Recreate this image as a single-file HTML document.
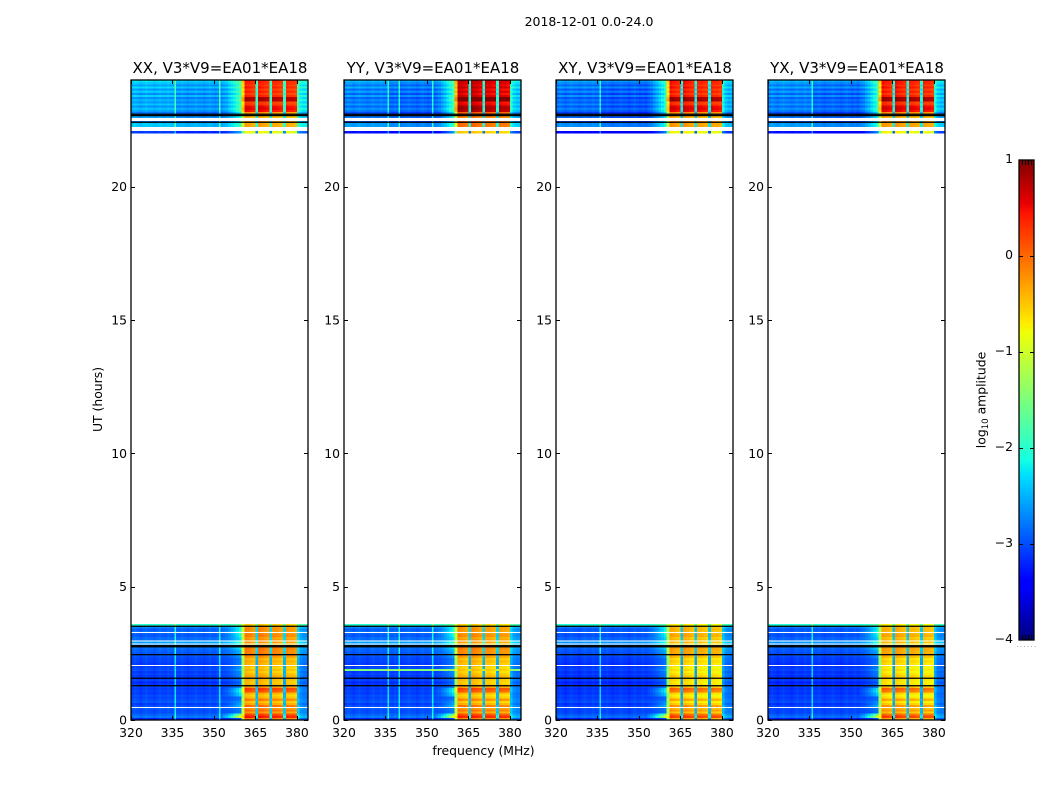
<!DOCTYPE html>
<html lang="en">
<head>
<meta charset="utf-8">
<title>2018-12-01 0.0-24.0</title>
<style>
html,body{margin:0;padding:0;background:#fff;width:1050px;height:800px;overflow:hidden}
svg{display:block}
text{font-family:"DejaVu Sans","Liberation Sans",sans-serif;fill:#000}
.tick{font-size:12.4px}
.title{font-size:15px}
</style>
</head>
<body>
<svg id="chart" xmlns="http://www.w3.org/2000/svg" width="1050" height="800" viewBox="0 0 1050 800">
  <text x="589" y="26" text-anchor="middle" style="font-size:12.5px">2018-12-01 0.0-24.0</text>
  <text x="483.5" y="755" text-anchor="middle" class="tick">frequency (MHz)</text>
  <text transform="translate(102,399.5) rotate(-90)" text-anchor="middle" class="tick">UT (hours)</text>
  <text transform="translate(985.5,400) rotate(-90)" text-anchor="middle" class="tick">log<tspan dy="2.5" style="font-size:8.6px">10</tspan><tspan dy="-2.5"> amplitude</tspan></text>
</svg>
<script>
// ---- chart data (log10 amplitude) ----
const panelTitles = ["XX, V3*V9=EA01*EA18", "YY, V3*V9=EA01*EA18", "XY, V3*V9=EA01*EA18", "YX, V3*V9=EA01*EA18"];
const xTicks = [320, 335, 350, 365, 380];
const yTicks = [0, 5, 10, 15, 20];
const colorbarTicks = [1, 0, -1, -2, -3, -4];
const freqStart = 320;
const freqEnd = 384;
const hourMax = 24;
const rowHours = 0.08;
const bottomBlockStart = 0;
const topBlockStart = 22;

// Per-time-row amplitude outside the bright band (null = no data), earliest row first.
const bottomLow = [-3.2,-2.8,-2.9,-3.0,-3.0,-2.95,-3.0,-3.1,-2.95,-3.0,-3.05,-3.0,-3.1,-3.05,-3.1,-3.05,-3.1,-3.2,-3.05,-3.1,-3.1,-3.05,-3.1,-3.0,-3.05,-3.1,-3.1,-3.05,-3.05,-3.0,-2.95,-2.95,-2.9,-2.85,-2.75,-2.65,-2.6,-2.85,-2.85,-2.95,-2.9,-2.85,-2.95,-2.75,-2.0];
// Per-time-row amplitude inside the bright band.
const bottomHigh = [-0.2,0.35,0.1,-0.35,-0.1,-0.3,-0.1,-0.4,-0.55,-0.2,-0.5,-0.6,-0.45,0.05,0.15,-0.3,-0.5,-0.55,-0.5,-0.45,-0.4,-0.5,-0.6,-0.5,-0.6,-0.45,-0.5,-0.4,-0.5,-0.3,-0.2,-0.2,-0.2,-0.15,-0.35,-0.4,-0.3,-0.3,-0.35,-0.2,-0.25,-0.3,-0.25,-0.3,-0.6];
// Per-time-row strength of the ramp just below the bright band.
const bottomRampGain = [0.3,2.2,1.6,0.3,0.3,0.3,0.7,0.7,0.5,0.3,0.3,1,1.1,1.1,1,0.5,0.4,0.4,0.4,0.4,0.5,0.5,0.6,0.7,0.6,0.5,0.5,0.4,0.4,0.5,0.6,0.6,0.6,0.8,0.9,1,1,0.8,0.9,1.1,1.2,1.2,1.1,1,1];
const topLow = [-3.3,null,null,-2.6,-2.6,-3.0,null,-2.8,-2.7,-3.0,-2.8,-2.65,-2.9,-2.6,-2.85,-2.7,-2.9,-2.55,-2.9,-2.6,-2.85,-2.5,-2.8,-2.6,-2.45];
const topHigh = [-0.9,null,null,-0.4,-0.4,-0.3,null,-0.5,-0.5,-0.3,0.4,0.5,0.45,0.2,0.15,0.75,0.75,0.3,0.15,0.3,0.15,0.35,0.2,0.3,0.3];

// Per-channel (1 MHz) mix between the low and high levels, and small channel trims.
const bandWeight = [0,0,0,0,0,0,0,0,0,0,0,0,0,0,0,0,0,0,0,0,0,0,0,0,0,0,0,0,0,0,0,0,0,0.03,0.05,0.08,0.12,0.17,0.22,0.28,0.7,1,1,1,1,0.22,1,1,1,1,0.22,1,1,1,1,0.22,1,1,1,1,0.22,0.13,0.1,0.1];
const channelTrim = [0,0.05,0,-0.05,0,0.05,0,0,-0.05,0,0.05,0,0,0.05,0,0,0,0,0.05,0,-0.05,0,0,0.05,0,0,-0.05,0,0.05,0,0,0.05,0,0,0,0,0,0,0,0,0,0.15,0.1,0.05,0,0,0.15,0.1,0.05,0,0,0.05,0.05,0,-0.05,0,0.05,0,0,-0.05,0,0,0,0];
const topChannelLift = [0.12,0.12,0.12,0.12,0.12,0.12,0.12,0.12,0.12,0.1,0.1,0.1,0.1,0.1,0.1,0.1,0,0,0,0,0,0,0,0,0,0,0,0,0,0,-0.05,-0.05,-0.05,-0.05,-0.05,0,0,0,0,0,0,0,0,0,0,0,0,0,0,0,0,0,0,0,0,0,0,0,0,0,0.1,0.1,0.1,0.1];

// Per-panel level adjustments: XX, YY, XY, YX.
const panelTopHighShift = [0, 0.3, 0.05, 0.05];
const panelTopLowShift = [0.1, -0.12, -0.2, -0.12];
const panelBottomHighShift = [0, -0.05, -0.2, -0.2];
const panelBottomLowShift = [0, 0, -0.05, -0.05];
// Narrow interference channels, per panel (MHz).
const panelSpurChannels = [[336, 352], [336, 340, 352], [336], [336]];
const spurLift = 0.8;
// Bright low-band row seen only in the YY panel.
const yyHotBottomRow = 23;
const yyHotLift = 1.5;

// Thin flagged rows, in hours.
const blackRowHours = [3.54, 2.81, 2.77, 2.475, 1.59, 1.31, 22.74, 22.69, 22.44];
const whiteRowHours = [3.3, 2.98, 2.86, 2.07, 0.49, 22.575, 22.5];

// ---- layout ----
const panelLefts = [131, 344, 556, 768];
const panelWidth = 177;
const plotTop = 80;
const plotBottom = 720;
const cbLeft = 1019;
const cbRight = 1034;
const cbTop = 160;
const cbBottom = 640;
const cbMin = -4;
const cbMax = 1;
const spurWidth = 1.5;
const SVGNS = "http://www.w3.org/2000/svg";
const svg = document.getElementById("chart");

function make(tag, parent) {
  const el = document.createElementNS(SVGNS, tag);
  parent.appendChild(el);
  return el;
}
function lerpStops(stops, t) {
  for (let i = 1; i < stops.length; i++) {
    if (t <= stops[i][0]) {
      const a = stops[i - 1], b = stops[i];
      return a[1] + (b[1] - a[1]) * (t - a[0]) / (b[0] - a[0]);
    }
  }
  return stops[stops.length - 1][1];
}
const jetR = [[0,0],[0.35,0],[0.66,1],[0.89,1],[1,0.5]];
const jetG = [[0,0],[0.125,0],[0.375,1],[0.64,1],[0.91,0],[1,0]];
const jetB = [[0,0.5],[0.11,1],[0.34,1],[0.65,0],[1,0]];
function colorFor(v) {
  const t = Math.max(0, Math.min(1, (v - cbMin) / (cbMax - cbMin)));
  const r = Math.round(255 * lerpStops(jetR, t));
  const g = Math.round(255 * lerpStops(jetG, t));
  const b = Math.round(255 * lerpStops(jetB, t));
  return "rgb(" + r + "," + g + "," + b + ")";
}
function yScale(h) {
  return plotBottom - (h / hourMax) * (plotBottom - plotTop);
}
function xScale(f, left) {
  return left + ((f - freqStart) / (freqEnd - freqStart)) * panelWidth;
}
function cbY(v) {
  return cbBottom - ((v - cbMin) / (cbMax - cbMin)) * (cbBottom - cbTop);
}

function drawBlock(group, left, start, lowRows, highRows, lowShift, highShift, spurs, hotRow, rampGain, lift) {
  lowRows.forEach(function (lowValue, r) {
    const highValue = highRows[r];
    if (lowValue === null || highValue === null) return;
    const y0 = yScale(start + (r + 1) * rowHours);
    const y1 = yScale(start + r * rowHours);
    const low = lowValue + lowShift + (r === hotRow ? yyHotLift : 0);
    const high = highValue + highShift;
    bandWeight.forEach(function (w, c) {
      const isRamp = c >= 33 && c < 40;
      const mix = isRamp && rampGain ? w * rampGain[r] : w;
      const v = low + mix * (high - low) + channelTrim[c] + (lift ? lift[c] : 0);
      const x0 = xScale(freqStart + c, left);
      const x1 = xScale(freqStart + c + 1, left);
      const cell = make("rect", group);
      
      
      cell.setAttribute("x", x0.toFixed(2));
      cell.setAttribute("y", y0.toFixed(2));
      cell.setAttribute("width", (x1 - x0).toFixed(2));
      cell.setAttribute("height", (y1 - y0).toFixed(2));
      cell.setAttribute("fill", colorFor(v));
    });
    spurs.forEach(function (f) {
      const spur = make("rect", group);
      
      
      spur.setAttribute("x", (xScale(f, left) - spurWidth / 2).toFixed(2));
      spur.setAttribute("y", y0.toFixed(2));
      spur.setAttribute("width", spurWidth);
      spur.setAttribute("height", (y1 - y0).toFixed(2));
      spur.setAttribute("fill", colorFor(low + spurLift));
    });
  });
}

panelLefts.forEach(function (left, p) {
  const right = left + panelWidth;
  const panel = make("g", svg);
  
  

  const title = make("text", panel);
  
  
  title.setAttribute("class", "title");
  title.setAttribute("x", left + panelWidth / 2 + 0.5);
  title.setAttribute("y", 73);
  title.setAttribute("text-anchor", "middle");
  title.textContent = panelTitles[p];

  const heat = make("g", panel);
  
  
  heat.setAttribute("shape-rendering", "crispEdges");
  const spurs = panelSpurChannels[p];
  drawBlock(heat, left, bottomBlockStart, bottomLow, bottomHigh, panelBottomLowShift[p], panelBottomHighShift[p], spurs, p === 1 ? yyHotBottomRow : -1, bottomRampGain, null);
  drawBlock(heat, left, topBlockStart, topLow, topHigh, panelTopLowShift[p], panelTopHighShift[p], spurs, -1, null, topChannelLift);

  whiteRowHours.forEach(function (h) {
    const line = make("rect", heat);
    
    
    line.setAttribute("x", left);
    line.setAttribute("y", yScale(h).toFixed(2));
    line.setAttribute("width", panelWidth);
    line.setAttribute("height", 1);
    line.setAttribute("fill", "#fff");
  });
  blackRowHours.forEach(function (h) {
    const line = make("rect", heat);
    
    
    line.setAttribute("shape-rendering", "auto");
    line.setAttribute("x", left);
    line.setAttribute("y", yScale(h).toFixed(2));
    line.setAttribute("width", panelWidth);
    line.setAttribute("height", 1.3);
    line.setAttribute("fill", "#000");
  });

  const frame = make("rect", panel);
  
  
  frame.setAttribute("x", left);
  frame.setAttribute("y", plotTop);
  frame.setAttribute("width", panelWidth);
  frame.setAttribute("height", plotBottom - plotTop);
  frame.setAttribute("fill", "none");
  frame.setAttribute("stroke", "#000");
  frame.setAttribute("stroke-width", "1.3");

  xTicks.forEach(function (f) {
    const x = Math.round(xScale(f, left)) + 0.5;
    [[plotTop, plotTop + 4], [plotBottom, plotBottom - 4]].forEach(function (seg) {
      const t = make("line", panel);
      
      
      t.setAttribute("x1", x);
      t.setAttribute("x2", x);
      t.setAttribute("y1", seg[0]);
      t.setAttribute("y2", seg[1]);
      t.setAttribute("stroke", "#000");
    });
    const label = make("text", panel);
    
    
    label.setAttribute("class", "tick");
    label.setAttribute("x", xScale(f, left));
    label.setAttribute("y", 737);
    label.setAttribute("text-anchor", "middle");
    label.textContent = f;
  });

  yTicks.forEach(function (h) {
    const y = Math.round(yScale(h)) + 0.5;
    [[left, left + 4], [right, right - 4]].forEach(function (seg) {
      const t = make("line", panel);
      
      
      t.setAttribute("x1", seg[0]);
      t.setAttribute("x2", seg[1]);
      t.setAttribute("y1", y);
      t.setAttribute("y2", y);
      t.setAttribute("stroke", "#000");
    });
    const label = make("text", panel);
    
    
    label.setAttribute("class", "tick");
    label.setAttribute("x", left - 4);
    label.setAttribute("y", yScale(h) + 4.5);
    label.setAttribute("text-anchor", "end");
    label.textContent = h;
  });
});

// ---- colorbar ----
const colorbar = make("g", svg);


const cbSteps = 240;
for (let i = 0; i < cbSteps; i++) {
  const v0 = cbMin + (cbMax - cbMin) * i / cbSteps;
  const v1 = cbMin + (cbMax - cbMin) * (i + 1) / cbSteps;
  const slice = make("rect", colorbar);
  
  
  slice.setAttribute("shape-rendering", "crispEdges");
  slice.setAttribute("x", cbLeft);
  slice.setAttribute("y", cbY(v1));
  slice.setAttribute("width", cbRight - cbLeft);
  slice.setAttribute("height", cbY(v0) - cbY(v1));
  slice.setAttribute("fill", colorFor((v0 + v1) / 2));
}
const cbFrame = make("rect", colorbar);


cbFrame.setAttribute("x", cbLeft);
cbFrame.setAttribute("y", cbTop);
cbFrame.setAttribute("width", cbRight - cbLeft);
cbFrame.setAttribute("height", cbBottom - cbTop);
cbFrame.setAttribute("fill", "none");
cbFrame.setAttribute("stroke", "#000");
cbFrame.setAttribute("stroke-width", "1.3");

colorbarTicks.forEach(function (v) {
  const y = Math.round(cbY(v)) + 0.5;
  if (v !== cbMax && v !== cbMin) {
    [[cbLeft, cbLeft + 4], [cbRight, cbRight - 4]].forEach(function (seg) {
      const t = make("line", colorbar);
      
      
      t.setAttribute("x1", seg[0]);
      t.setAttribute("x2", seg[1]);
      t.setAttribute("y1", y);
      t.setAttribute("y2", y);
      t.setAttribute("stroke", "#000");
    });
  }
  const label = make("text", colorbar);
  
  
  label.setAttribute("class", "tick");
  label.setAttribute("x", 1013);
  label.setAttribute("y", cbY(v) + 3);
  label.setAttribute("text-anchor", "end");
  label.textContent = String(v).replace("-", "\u2212");
});

[1022, 1025, 1028, 1031].forEach(function (x) {
  [[cbTop, cbTop + 5], [cbBottom, cbBottom - 5]].forEach(function (seg) {
    const t = make("line", colorbar);
    
    
    t.setAttribute("x1", x + 0.5);
    t.setAttribute("x2", x + 0.5);
    t.setAttribute("y1", seg[0]);
    t.setAttribute("y2", seg[1]);
    t.setAttribute("stroke", "#000");
  });
});
[1017, 1020.5, 1024, 1027.5, 1031, 1034.5].forEach(function (x) {
  const dot = make("rect", colorbar);
  
  
  dot.setAttribute("x", x);
  dot.setAttribute("y", 646);
  dot.setAttribute("width", 1);
  dot.setAttribute("height", 1);
  dot.setAttribute("fill", "#aaa");
});
</script>
</body>
</html>
